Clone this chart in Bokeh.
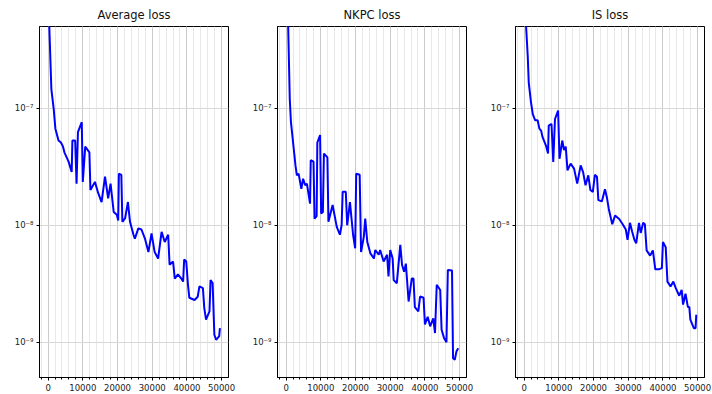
from bokeh.plotting import figure
from bokeh.layouts import row
from bokeh.models import (Range1d, FixedTicker, SingleIntervalTicker,
                          CustomJSTickFormatter, NumeralTickFormatter)
from bokeh.embed import file_html
from bokeh.resources import INLINE

titles = ["Average loss", "NKPC loss", "IS loss"]

steps_avg = [0, 300, 940, 1600, 2100, 3000, 3700, 4300, 4700, 5900, 6800, 7000, 7800,
             8200, 8600, 9700, 10000, 10700, 11900, 12200, 13500, 14400, 15400, 16400, 17300,
             18000, 18900, 19800, 20200, 20400, 21100, 21400, 22200, 23000, 23600, 24600,
             25000, 26000, 26900, 27900, 28900, 29800, 30700, 31700, 32700, 33600, 34600,
             35000, 36000, 36500, 37400, 38400, 38900, 39200, 39800, 40300, 40700, 42200,
             43100, 43600, 44600, 45000, 45500, 46500, 46800, 47400, 47900, 48400, 49300,
             49500]
loss_avg = [3e-6, 5.5e-7, 1.46e-7, 1.0e-7, 6.7e-8, 5.3e-8, 5.1e-8, 4.7e-8, 4.2e-8, 3.5e-8,
            2.85e-8, 5.3e-8, 5.3e-8, 2.27e-8, 6.25e-8, 7.6e-8, 2.35e-8, 4.7e-8, 4.2e-8,
            2.0e-8, 2.35e-8, 1.9e-8, 1.58e-8, 2.6e-8, 1.7e-8, 2.27e-8, 1.3e-8, 1.23e-8, 1.1e-8,
            2.76e-8, 2.7e-8, 1.07e-8, 1.15e-8, 1.58e-8, 1.07e-8, 8.3e-9, 7.7e-9, 9.4e-9,
            9.2e-9, 7.7e-9, 5.9e-9, 8.5e-9, 5.9e-9, 5.2e-9, 8.8e-9, 7.2e-9, 8.3e-9, 4.6e-9,
            4.9e-9, 3.5e-9, 3.8e-9, 3.5e-9, 3.3e-9, 5.1e-9, 4.9e-9, 3.1e-9, 2.4e-9, 2.3e-9,
            2.45e-9, 3.0e-9, 2.9e-9, 1.96e-9, 1.56e-9, 1.84e-9, 3.4e-9, 3.2e-9, 1.16e-9,
            1.05e-9, 1.13e-9, 1.32e-9]

steps_nkpc = [0, 600, 1060, 1400, 1900, 2400, 2700, 3100, 3600, 4400, 4900, 5500, 6000,
              6900, 7100, 7900, 8200, 8800, 9000, 9800, 10100, 10600, 10900, 11900, 12200,
              13400, 14600, 15500, 16000, 16300, 17200, 17600, 18400, 19300, 19900, 20200,
              21200, 21600, 22400, 22800, 23400, 24300, 25300, 25700, 26700, 27100, 28100,
              29100, 29500, 30000, 30700, 31000, 31900, 32900, 33400, 34000, 34500, 35300,
              36200, 36700, 37100, 38100, 38600, 39600, 40000, 40800, 41500, 42400, 42900,
              43400, 44400, 44800, 45500, 46200, 46600, 47800, 48100, 48600, 49100, 49600]
loss_nkpc = [3e-6, 5e-7, 1.2e-7, 7.6e-8, 5.5e-8, 3.95e-8, 3.25e-8, 2.67e-8, 2.76e-8, 2.05e-8,
             2.5e-8, 2.2e-8, 2.27e-8, 1.53e-8, 3.6e-8, 3.5e-8, 1.14e-8, 1.2e-8, 5.1e-8,
             5.9e-8, 1.26e-8, 1.3e-8, 4.1e-8, 3.8e-8, 1.07e-8, 1.49e-8, 9.7e-9, 8.3e-9,
             1.0e-8, 1.93e-8, 1.93e-8, 1.0e-8, 1.58e-8, 8.3e-9, 6.35e-9, 2.76e-8, 2.7e-8,
             5.9e-9, 8.0e-9, 1.14e-8, 7.2e-9, 5.75e-9, 5.2e-9, 6.15e-9, 5.6e-9, 6.15e-9,
             4.9e-9, 5.6e-9, 3.65e-9, 6.15e-9, 5.2e-9, 3.4e-9, 3.2e-9, 6.8e-9, 4.6e-9,
             4.0e-9, 4.7e-9, 2.23e-9, 3.5e-9, 3.5e-9, 2.0e-9, 1.84e-9, 2.46e-9, 2.4e-9,
             1.42e-9, 1.65e-9, 1.37e-9, 1.6e-9, 1.2e-9, 3.1e-9, 2.8e-9, 1.28e-9, 1.09e-9,
             1.0e-9, 4.15e-9, 4.1e-9, 7.3e-10, 7.1e-10, 8.4e-10, 8.9e-10]

steps_is = [0, 500, 1050, 1340, 2000, 2500, 3200, 3900, 4400, 4900, 5300, 6300, 6900, 7100,
            7900, 8400, 8900, 9800, 10200, 11000, 11500, 12000, 12500, 13400, 14400, 15300,
            16300, 17000, 17700, 18500, 19100, 19800, 20400, 21000, 21400, 22400, 23300,
            23900, 24400, 25400, 26200, 27400, 28400, 29300, 29800, 30500, 31100, 31800,
            32300, 33100, 33600, 34300, 34800, 35300, 36300, 37100, 37800, 38800, 39700,
            40000, 40800, 41300, 42200, 43000, 43700, 44700, 45400, 45800, 46500, 47200,
            47600, 47900, 48900, 49400, 49600]
loss_is = [3e-6, 5.5e-7, 2.8e-7, 1.66e-7, 1.12e-7, 8.9e-8, 7.9e-8, 7.9e-8, 6.7e-8, 6.45e-8,
           5.7e-8, 4.8e-8, 4.1e-8, 7.1e-8, 7.35e-8, 3.47e-8, 8.1e-8, 9.55e-8, 3.7e-8, 5.3e-8,
           4.4e-8, 4.7e-8, 2.95e-8, 3.36e-8, 3.05e-8, 2.27e-8, 3.25e-8, 2.85e-8, 2.2e-8,
           2.67e-8, 2.0e-8, 1.93e-8, 2.7e-8, 2.6e-8, 1.64e-8, 1.6e-8, 2.03e-8, 1.7e-8,
           1.38e-8, 1.02e-8, 1.21e-8, 1.13e-8, 1.02e-8, 9.2e-9, 7.5e-9, 1.05e-8, 8.9e-9,
           7.5e-9, 7.0e-9, 1.05e-8, 8.6e-9, 1.05e-8, 1.02e-8, 6.1e-9, 5.5e-9, 6.1e-9, 4.2e-9,
           4.2e-9, 4.3e-9, 7.2e-9, 6.5e-9, 3.3e-9, 3.0e-9, 3.3e-9, 2.9e-9, 2.5e-9, 2.8e-9,
           2.1e-9, 2.6e-9, 2.0e-9, 2.0e-9, 1.56e-9, 1.32e-9, 1.32e-9, 1.72e-9]

y_ticks = [1e-9, 1e-8, 1e-7]

series = [(steps_avg, loss_avg), (steps_nkpc, loss_nkpc), (steps_is, loss_is)]
widths = [238, 238, 236]
rights = [10, 10, 8]

sup_fmt = CustomJSTickFormatter(code="""
const e = Math.round(Math.log10(tick));
const m = {'-':'\u207b','0':'\u2070','1':'\u00b9','2':'\u00b2','3':'\u00b3','4':'\u2074',
           '5':'\u2075','6':'\u2076','7':'\u2077','8':'\u2078','9':'\u2079'};
return '10' + String(e).split('').map(c => m[c]).join('');
""")

figs = []
for i, (title, (xs, ys)) in enumerate(zip(titles, series)):
    p = figure(width=widths[i], height=394, output_backend="svg", toolbar_location=None,
               y_axis_type="log", x_range=Range1d(-2475, 51975),
               y_range=Range1d(5e-10, 5e-7),
               min_border_left=39, min_border_right=rights[i],
               min_border_top=24, min_border_bottom=17,
               background_fill_color="white", border_fill_color="white")
    p.line(xs, ys, line_color="#0000ff", line_width=2)

    p.title.text = title
    p.title.align = "center"
    p.title.text_font = "DejaVu Sans"
    p.title.text_font_size = "11.5px"
    p.title.text_font_style = "normal"
    p.title.text_color = "#111111"

    p.outline_line_color = "black"
    p.outline_line_width = 1
    p.outline_line_alpha = 1

    p.xaxis.ticker = SingleIntervalTicker(interval=10000, num_minor_ticks=5)
    p.xaxis.formatter = NumeralTickFormatter(format="0")
    p.yaxis.ticker = FixedTicker(ticks=y_ticks)
    p.yaxis.formatter = sup_fmt

    for ax in (p.xaxis, p.yaxis):
        ax.major_label_text_font = "DejaVu Sans"
        ax.major_label_text_font_size = "8.5px"
        ax.major_label_text_color = "#222222"
        ax.axis_line_color = "black"
        ax.major_tick_line_color = "black"
        ax.major_tick_out = 3
        ax.major_tick_in = 0
        ax.major_label_standoff = 3
    p.xaxis.minor_tick_line_color = "black"
    p.xaxis.minor_tick_out = 2
    p.xaxis.minor_tick_in = 0
    p.yaxis.minor_tick_line_color = None

    p.xgrid.ticker = SingleIntervalTicker(interval=10000, num_minor_ticks=5)
    p.xgrid.grid_line_color = "#cbcbcb"
    p.xgrid.minor_grid_line_color = "#e8e8e8"
    p.ygrid.ticker = FixedTicker(ticks=y_ticks)
    p.ygrid.grid_line_color = "#d8d8d8"
    p.ygrid.minor_grid_line_color = None
    figs.append(p)

layout = row(*figs)
open("out.html", "w").write(file_html(layout, INLINE))
